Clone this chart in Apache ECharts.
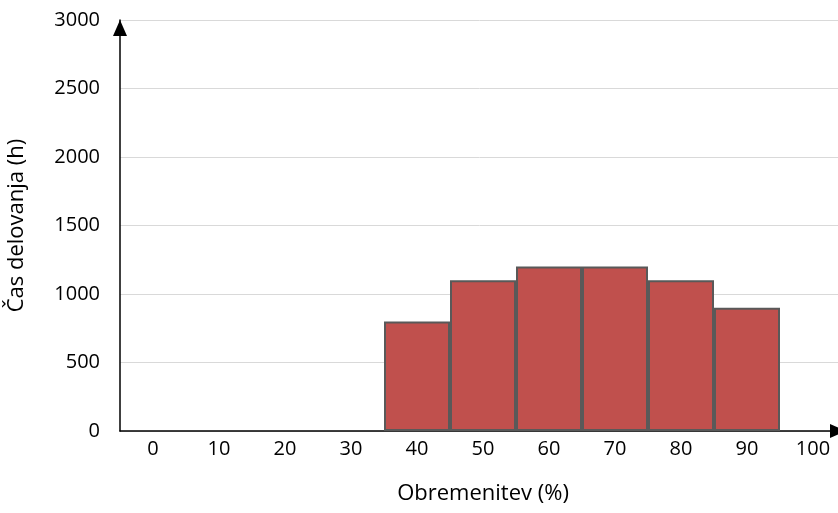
<!DOCTYPE html>
<html>
<head>
<meta charset="utf-8">
<script src="https://cdn.jsdelivr.net/npm/echarts@6/dist/echarts.min.js"></script>
<style>html,body{margin:0;padding:0;background:#fff}#c{width:838px;height:513px}</style>
</head>
<body>
<div id="c"></div>
<script>
const categories = ['0','10','20','30','40','50','60','70','80','90','100'];
const hours = [null,null,null,null,800,1100,1200,1200,1100,900,null];
const yTicks = [0,500,1000,1500,2000,2500,3000];
const xTitle = 'Obremenitev (%)';
const yTitle = 'Čas delovanja (h)';

const font = 'Open Sans';
const chart = echarts.init(document.getElementById('c'));
chart.setOption({
  animation: false,
  grid: {left: 120, top: 20, width: 726, height: 411, containLabel: false, outerBoundsMode: 'none'},
  xAxis: {
    type: 'category',
    data: categories,
    name: xTitle,
    nameLocation: 'middle',
    nameGap: 52,
    nameTextStyle: {fontFamily: font, fontSize: 22, color: '#000'},
    axisTick: {show: false},
    axisLine: {show: true, lineStyle: {color: '#000', width: 1.5}, symbol: ['none','triangle'], symbolSize: [14, 16], symbolOffset: [0, -8]},
    axisLabel: {fontFamily: font, fontSize: 20, color: '#000', margin: 8},
    splitLine: {show: false}
  },
  yAxis: {
    type: 'value',
    min: yTicks[0],
    max: yTicks[yTicks.length-1],
    interval: 500,
    name: yTitle,
    nameLocation: 'middle',
    nameGap: 92,
    nameTextStyle: {fontFamily: font, fontSize: 22, color: '#000'},
    axisTick: {show: false},
    axisLine: {show: true, lineStyle: {color: '#000', width: 1.5}, symbol: ['none','triangle'], symbolSize: [14, 16], symbolOffset: [0, -8]},
    axisLabel: {fontFamily: font, fontSize: 20, color: '#000', margin: 20, formatter: v => String(v)},
    splitLine: {show: true, lineStyle: {color: '#D9D9D9', width: 1}}
  },
  series: [{
    type: 'bar',
    data: hours,
    barWidth: '100%',
    barCategoryGap: '0%',
    itemStyle: {color: '#C0504D', borderColor: '#595959', borderWidth: 2}
  }]
});
</script>
</body>
</html>
